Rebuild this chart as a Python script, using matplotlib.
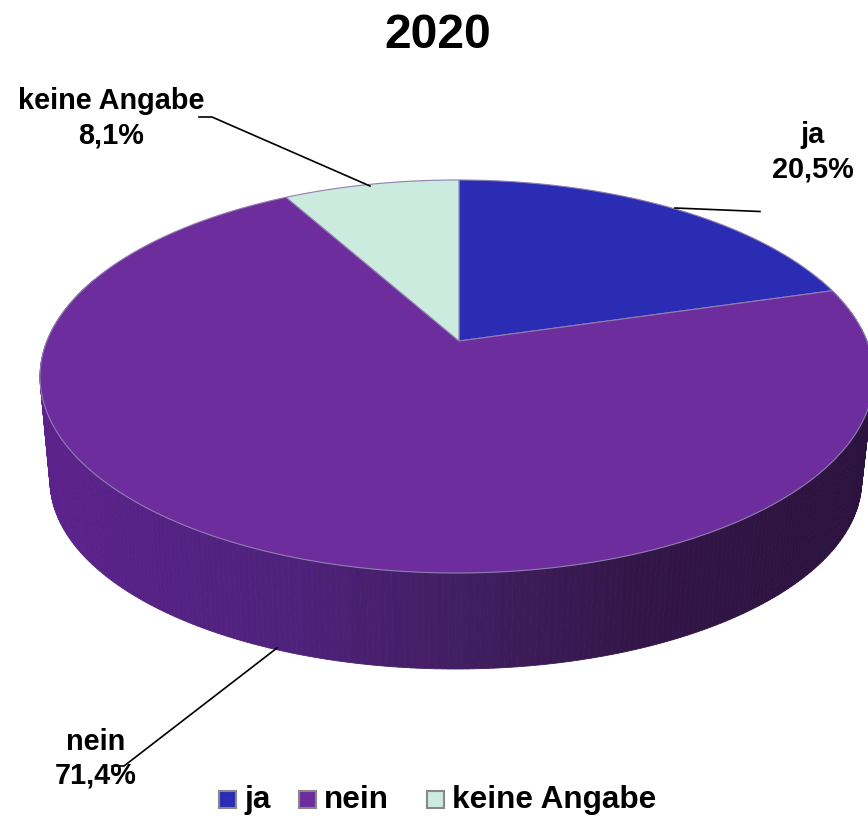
import numpy as np
import matplotlib
matplotlib.use('Agg')
import matplotlib.pyplot as plt
from matplotlib.patches import Rectangle

plt.rcParams['font.family'] = ['Liberation Sans', 'DejaVu Sans']

title = '2020'
categories = ['ja', 'nein', 'keine Angabe']
values = [20.5, 71.4, 8.1]
value_labels = ['20,5%', '71,4%', '8,1%']
colors = ['#2A2DB4', '#6E2D9C', '#CBEBDF']

# Schatten der Seitenwand von links nach rechts
shade_x = [40, 280, 460, 640, 868]
shade_r = [0x5C, 0x4E, 0x42, 0x33, 0x2C]
shade_g = [0x22, 0x22, 0x1E, 0x16, 0x12]
shade_b = [0x8C, 0x7C, 0x62, 0x48, 0x3E]

fig = plt.figure(figsize=(8.68, 8.16), dpi=100)
ax = fig.add_axes([0, 0, 1, 1])
ax.set_xlim(0, 868)
ax.set_ylim(816, 0)
ax.axis('off')


# Perspektive: Winkel (im Uhrzeigersinn von oben) auf Pixel der Deckfläche
def project(theta):
    u, v = np.sin(theta), np.cos(theta)
    den = 1 + 0.1806 * v + 0.005 * u
    return 459 + 410 * u / den, 341 - 190.1 * v / den


# Seitenwand, Streifen für Streifen
wall = np.radians(np.linspace(70, 290, 300))
tx, ty = project(wall)
bx = 455 + (tx - 456) * 405 / 416
by = 480 + (ty - 376) * 189 / 197
for i in range(len(wall) - 1):
    xm = (tx[i] + tx[i + 1]) / 2
    c = (np.interp(xm, shade_x, shade_r) / 255,
         np.interp(xm, shade_x, shade_g) / 255,
         np.interp(xm, shade_x, shade_b) / 255)
    ax.fill([tx[i], tx[i + 1], bx[i + 1], bx[i]],
            [ty[i], ty[i + 1], by[i + 1], by[i]],
            color=c, lw=0.6, zorder=1)

# Deckfläche
start = 0.0
for val, col in zip(values, colors):
    end = start + val / sum(values) * 2 * np.pi
    t = np.linspace(start, end, 200)
    x, y = project(t)
    ax.fill(np.r_[459, x], np.r_[341, y], facecolor=col,
            edgecolor='#8F7FB0', lw=0.8, zorder=2)
    start = end

# Führungslinien
ax.plot([675, 760], [208, 211.5], color='black', lw=1.2, zorder=3)
ax.plot([199, 212, 370], [117, 117, 186], color='black', lw=1.2, zorder=3)
ax.plot([277, 124, 112], [648, 766, 766], color='black', lw=1.2, zorder=3)

ax.text(438, 47.5, title, fontsize=34.7, fontweight='bold', ha='center', va='baseline')
ax.text(813, 177, categories[0] + '\n' + value_labels[0], fontsize=20.8, fontweight='bold',
        ha='center', va='baseline', multialignment='center', linespacing=1.28)
ax.text(95.5, 784, categories[1] + '\n' + value_labels[1], fontsize=20.8, fontweight='bold',
        ha='center', va='baseline', multialignment='center', linespacing=1.28)
ax.text(111, 143, categories[2] + '\n' + value_labels[2], fontsize=20.8, fontweight='bold',
        ha='center', va='baseline', multialignment='center', linespacing=1.28)

# Legende
box_x = [219, 299, 427]
for bx0, name, col in zip(box_x, categories, colors):
    ax.add_patch(Rectangle((bx0, 790.5), 17, 17, facecolor=col, edgecolor='#888888', lw=1.5))
    ax.text(bx0 + 25, 808, name, fontsize=22.7, fontweight='bold', ha='left', va='baseline')

fig.savefig('out.png', dpi=100)
